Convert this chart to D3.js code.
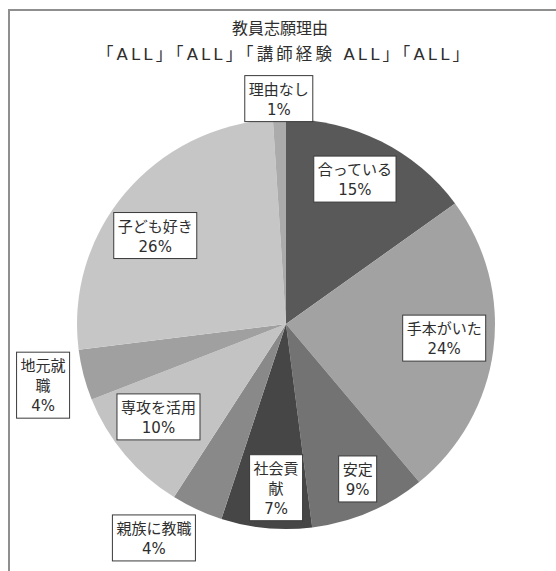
<!DOCTYPE html>
<html>
<head>
<meta charset="utf-8">
<script src="https://cdn.jsdelivr.net/npm/d3@7"></script>
<style>
  body { margin: 0; background: #fff; }
  text { font-family: "DejaVu Sans", "Noto Sans CJK JP", sans-serif; fill: #2e2e2e; }
</style>
</head>
<body>
<script>
// chart data
var title = "教員志願理由";
var subtitle = "「ALL」「ALL」「講師経験 ALL」「ALL」";
var categories = ["合っている", "手本がいた", "安定", "社会貢献", "親族に教職", "専攻を活用", "地元就職", "子ども好き", "理由なし"];
var values = [15, 24, 9, 7, 4, 10, 4, 26, 1];

// styles
var colors = ["#595959", "#a2a2a2", "#737373", "#464646", "#898989", "#c3c3c3", "#a0a0a0", "#c6c6c6", "#ababab"];
var labelRadius = [0.78, 0.76, 0.83, 0.8, 1.22, 0.76, 1.2, 0.76, 1.1];
var labelTurn = [-2, -2, -1, -2, 6, 3, 0, -5, 0];   // degrees
var wrapChars = [0, 0, 0, 3, 0, 0, 3, 0, 0];

var width = 556, height = 571;
var cx = 286, cy = 324, rx = 209, ry = 205;

var svg = d3.select("body").append("svg")
    .attr("width", width)
    .attr("height", height);

// outer frame (only top/left visible)
svg.append("rect")
    .attr("x", 9).attr("y", 10)
    .attr("width", 700).attr("height", 700)
    .attr("fill", "none")
    .attr("stroke", "#8f8f8f")
    .attr("stroke-width", 2);

//Title
svg.append("text")
    .attr("x", 280).attr("y", 34)
    .attr("text-anchor", "middle")
    .style("font-size", "16px")
    .text(title);
svg.append("text")
    .attr("x", 283).attr("y", 60)
    .attr("text-anchor", "middle")
    .attr("textLength", 372)
    .attr("lengthAdjust", "spacing")
    .style("font-size", "16.5px")
    .text(subtitle);

var data = categories.map(function(c, i) {
    return {name: c, value: values[i], idx: i};
});

var pie = d3.pie().sort(null).value(function(d) { return d.value; });
var arc = d3.arc().innerRadius(0).outerRadius(ry);

var g = svg.append("g")
    .attr("transform", "translate(" + cx + "," + cy + ")");

var arcs = pie(data);

g.append("g")
    .attr("transform", "scale(" + (rx / ry) + ",1)")
    .selectAll("path.slice")
    .data(arcs)
    .enter()
    .append("path")
    .attr("class", "slice")
    .attr("d", arc)
    .attr("fill", function(d) { return colors[d.data.idx]; });

//Labels
var lineH = 20, fs = 15;
var labels = g.selectAll("g.lbl")
    .data(arcs)
    .enter()
    .append("g")
    .attr("class", "lbl")
    .attr("transform", function(d) {
        var k = labelRadius[d.data.idx];
        var a = (d.startAngle + d.endAngle) / 2 + labelTurn[d.data.idx] * Math.PI / 180;
        return "translate(" + (Math.sin(a) * rx * k) + "," + (-Math.cos(a) * ry * k) + ")";
    });

labels.each(function(d) {
    var sel = d3.select(this);
    var name = d.data.name;
    var lines = [];
    var w = wrapChars[d.data.idx];
    if (w > 0) {
        for (var k = 0; k < name.length; k += w) lines.push(name.substr(k, w));
    } else {
        lines.push(name);
    }
    lines.push(d.data.value + "%");
    var rect = sel.append("rect");
    var t = sel.append("text")
        .attr("text-anchor", "middle")
        .style("font-size", fs + "px");
    var top = -(lines.length * lineH) / 2;
    lines.forEach(function(l, j) {
        t.append("tspan")
            .attr("x", 0)
            .attr("y", top + j * lineH + 16)
            .text(l);
    });
    var bb = t.node().getBBox();
    rect.attr("x", bb.x - 4)
        .attr("y", top - 3)
        .attr("width", bb.width + 8)
        .attr("height", lines.length * lineH + 6)
        .attr("fill", "#fff")
        .attr("stroke", "#3a3a3a")
        .attr("stroke-width", 1);
});
</script>
</body>
</html>
